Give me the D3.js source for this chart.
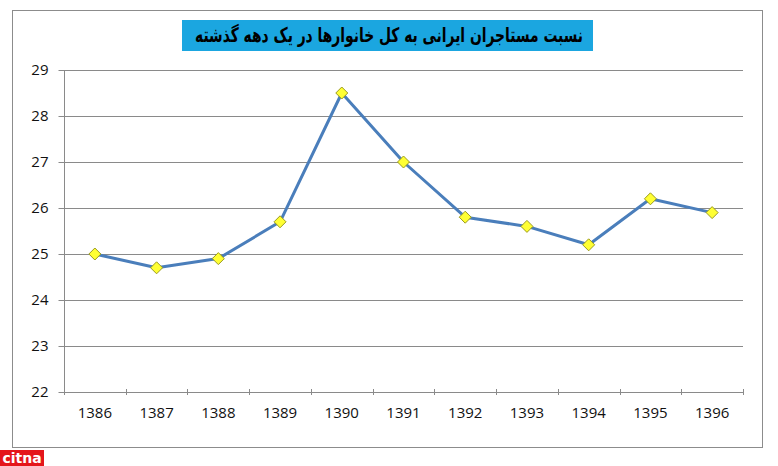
<!DOCTYPE html>
<html><head><meta charset="utf-8">
<script src="https://cdn.jsdelivr.net/npm/d3@7"></script>
<style>body{margin:0;background:#fff}svg{display:block}</style>
</head><body>
<script>
const title = "نسبت مستاجران ایرانی به کل خانوارها در یک دهه گذشته";
const years = ["1386","1387","1388","1389","1390","1391","1392","1393","1394","1395","1396"];
const values = [25.0, 24.7, 24.9, 25.7, 28.5, 27.0, 25.8, 25.6, 25.2, 26.2, 25.9];
const yTicks = [22,23,24,25,26,27,28,29];

const W = 778, H = 466;
const svg = d3.select("body").append("svg").attr("width", W).attr("height", H);

svg.append("rect").attr("x", 12.5).attr("y", 10.5).attr("width", 750).attr("height", 437)
  .attr("fill", "#fff").attr("stroke", "#8c8c8c").attr("stroke-width", 1);

const L = 64, R = 743, T = 70, B = 392;
const x = d3.scaleBand().domain(years).range([L, R]);
const y = d3.scaleLinear().domain([22, 29]).range([B, T]);

svg.append("g").selectAll("line").data(yTicks).join("line")
  .attr("x1", L).attr("x2", R)
  .attr("y1", d => Math.round(y(d)) + 0.5).attr("y2", d => Math.round(y(d)) + 0.5)
  .attr("stroke", "#8a8a8a").attr("stroke-width", 1);

const ya = svg.append("g").attr("transform", `translate(${L + 0.5},0)`)
  .call(d3.axisLeft(y).tickValues(yTicks).tickSize(6).tickPadding(10).tickFormat(d3.format("d")));
ya.select(".domain").attr("stroke", "#8a8a8a").attr("d", `M0,${T}V${B}`);
ya.selectAll(".tick line").attr("stroke", "#8a8a8a");
ya.selectAll("text").attr("font-family", "Open Sans, sans-serif").attr("font-size", 15).attr("fill", "#111");

const xa = svg.append("g").attr("transform", `translate(0,${Math.round(B) + 0.5})`)
  .call(d3.axisBottom(x).tickSize(0).tickPadding(15));
xa.select(".domain").attr("stroke", "#8a8a8a").attr("d", `M${L},0H${R}`);
xa.selectAll("text").attr("font-family", "Open Sans, sans-serif").attr("font-size", 15).attr("fill", "#111");
const bounds = years.map(d => x(d)).concat([x(years[years.length - 1]) + x.bandwidth()]);
svg.append("g").selectAll("line").data(bounds).join("line")
  .attr("x1", d => Math.round(d) + 0.5).attr("x2", d => Math.round(d) + 0.5)
  .attr("y1", B - 3).attr("y2", B + 3)
  .attr("stroke", "#8a8a8a");

const cx = d => x(d) + x.bandwidth() / 2;
svg.append("path").datum(values.map((v, i) => [cx(years[i]), y(v)]))
  .attr("d", d3.line()).attr("fill", "none").attr("stroke", "#4a7ebb").attr("stroke-width", 3)
  .attr("stroke-linejoin", "round");

svg.append("g").selectAll("path").data(values).join("path")
  .attr("transform", (v, i) => `translate(${cx(years[i])},${y(v)})`)
  .attr("d", "M0,-6L6,0L0,6L-6,0Z")
  .attr("fill", "#ffff33").attr("stroke", "#9a9a20").attr("stroke-width", 1);

svg.append("rect").attr("x", 182).attr("y", 20).attr("width", 411).attr("height", 31).attr("fill", "#1ba6e0");
svg.append("text").attr("x", 389).attr("y", 42).attr("text-anchor", "middle")
  .attr("textLength", 388).attr("lengthAdjust", "spacingAndGlyphs")
  .attr("font-family", "DejaVu Sans, sans-serif").attr("font-weight", "bold").attr("font-size", 20)
  .attr("fill", "#000").text(title);

svg.append("rect").attr("x", 0).attr("y", 450).attr("width", 44).attr("height", 16).attr("fill", "#e4161b");
svg.append("text").attr("x", 22).attr("y", 463).attr("text-anchor", "middle")
  .attr("font-family", "DejaVu Sans, sans-serif").attr("font-weight", "bold").attr("font-size", 14)
  .attr("fill", "#fff").text("citna");
</script>
</body></html>
